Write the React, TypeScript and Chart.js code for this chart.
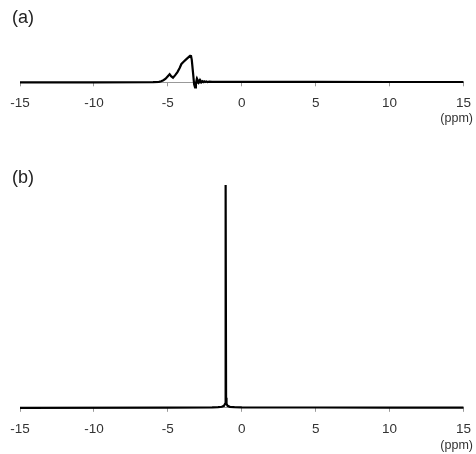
import React, { useEffect, useRef } from "react";
import { Chart, registerables } from "chart.js";

Chart.register(...registerables);

// Panel (a): broad spectrum
const ppmA = [-15, -10, -6, -5.6, -5.45, -5.3, -5.15, -5.0, -4.88, -4.78, -4.65, -4.5, -4.35, -4.2, -4.08, -3.95, -3.8, -3.65, -3.5, -3.44, -3.38, -3.3, -3.22, -3.16, -3.1, -3.06, -3.02, -2.97, -2.92, -2.87, -2.82, -2.77, -2.72, -2.66, -2.6, -2.54, -2.48, -2.4, -2.32, -2.2, -2.0, -1.5, -1, 0, 5, 10, 15];
const intA = [0, 0, 0.2, 0.5, 1, 2, 3.5, 6, 8, 6, 4.5, 7, 10, 14, 18, 20, 22, 24, 26, 26.5, 22, 10, -2, -5, -1, 1.8, -0.3, 1.6, -0.1, 1.4, 0, 1.2, 0.1, 1.0, 0.2, 0.9, 0.3, 0.8, 0.3, 0.6, 0.5, 0.5, 0.4, 0.4, 0.4, 0.3, 0.3];

// Panel (b): sharp single resonance
const ppmB = [-15, -5, -2, -1.6, -1.35, -1.2, -1.13, -1.1, -1.08, -1.06, -1.03, -0.96, -0.8, -0.5, 0, 5, 10, 15];
const intB = [0, 0.2, 0.4, 0.6, 1.0, 2, 4, 10, 222, 10, 4, 2, 1.0, 0.6, 0.4, 0.3, 0.2, 0.2];

const xMin = -15;
const xMax = 15;
const xStep = 5;

function makeConfig(xs: number[], ys: number[], yMax: number, padTop: number, padBottom: number): any {
  return {
    type: "line",
    data: {
      datasets: [
        {
          data: xs.map((x, i) => ({ x, y: ys[i] })),
          borderColor: "#000",
          borderWidth: 2.2,
          pointRadius: 0,
          tension: 0,
          fill: false,
          clip: false,
        },
      ],
    },
    options: {
      animation: false,
      responsive: false,
      maintainAspectRatio: false,
      layout: { padding: { left: 20, right: 9, top: padTop, bottom: padBottom } },
      plugins: { legend: { display: false }, tooltip: { enabled: false }, title: { display: false } },
      scales: {
        x: {
          type: "linear",
          min: xMin,
          max: xMax,
          ticks: {
            stepSize: xStep,
            color: "#333",
            padding: 9,
            maxRotation: 0,
            font: { family: "'Liberation Sans', Arial, sans-serif", size: 13.5 },
          },
          grid: { display: true, drawOnChartArea: false, drawTicks: true, tickLength: 4, color: "#999" },
          border: { display: true, color: "#999", width: 1 },
        },
        y: { display: false, min: 0, max: yMax },
      },
    },
  };
}

export default function App() {
  const refA = useRef<HTMLCanvasElement>(null);
  const refB = useRef<HTMLCanvasElement>(null);

  useEffect(() => {
    document.body.style.margin = "0";
    const cA = new Chart(refA.current as HTMLCanvasElement, makeConfig(ppmA, intA, 41.5, 40, 4.5));
    const cB = new Chart(refB.current as HTMLCanvasElement, makeConfig(ppmB, intB, 227, 50, 8));
    return () => {
      cA.destroy();
      cB.destroy();
    };
  }, []);

  const labelStyle: React.CSSProperties = {
    position: "absolute",
    fontFamily: "'Liberation Sans', Arial, sans-serif",
    color: "#222",
    lineHeight: 1,
  };

  return (
    <div style={{ position: "relative", width: 476, height: 454, background: "#fff", overflow: "hidden" }}>
      <canvas ref={refA} width={480} height={125} style={{ position: "absolute", left: 0, top: 0 }} />
      <canvas ref={refB} width={480} height={324} style={{ position: "absolute", left: 0, top: 130 }} />
      <div style={{ ...labelStyle, left: 12, top: 8, fontSize: 18 }}>(a)</div>
      <div style={{ ...labelStyle, left: 12, top: 168, fontSize: 18 }}>(b)</div>
      <div style={{ ...labelStyle, right: 3, top: 112, fontSize: 12.5, color: "#333" }}>(ppm)</div>
      <div style={{ ...labelStyle, right: 3, top: 439, fontSize: 12.5, color: "#333" }}>(ppm)</div>
    </div>
  );
}
